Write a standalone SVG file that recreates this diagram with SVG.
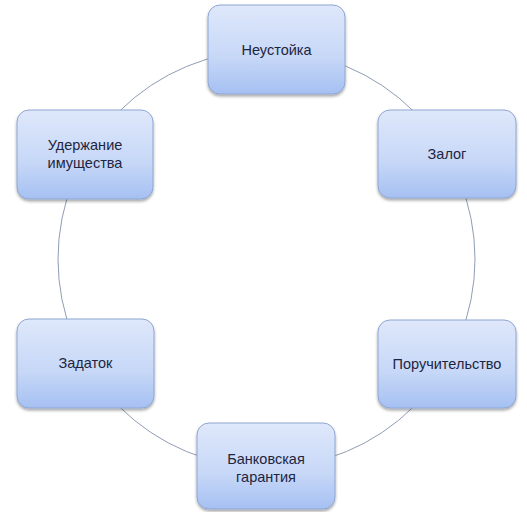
<svg xmlns="http://www.w3.org/2000/svg" width="527" height="512" viewBox="0 0 527 512">
  <defs>
    <linearGradient id="boxGrad" x1="0" y1="0" x2="0" y2="1">
      <stop offset="0" stop-color="#dfe8fb"/>
      <stop offset="0.6" stop-color="#c6d7f7"/>
      <stop offset="1" stop-color="#a5c0f2"/>
    </linearGradient>
    <filter id="shadow" x="-10%" y="-10%" width="125%" height="130%">
      <feGaussianBlur in="SourceAlpha" stdDeviation="1.5"/>
      <feOffset dx="0" dy="2" result="b"/>
      <feComponentTransfer><feFuncA type="linear" slope="0.35"/></feComponentTransfer>
      <feMerge><feMergeNode/><feMergeNode in="SourceGraphic"/></feMerge>
    </filter>
  </defs>
  <style>
    .box { fill: url(#boxGrad); stroke: #8ea6d2; stroke-width: 1; filter: url(#shadow); }
    .lbl { font-family: "Liberation Sans", Arial, sans-serif; font-size: 14.5px; fill: #1e2540; text-anchor: middle; }
    .ring { fill: none; stroke: #8f9db3; stroke-width: 1; }
  </style>
  <rect width="527" height="512" fill="#ffffff"/>
  <g id="connectors">
    <circle class="ring" cx="266.5" cy="259" r="208.5"/>
  </g>
  <g id="node-neustoyka">
    <rect class="box" x="208" y="5" width="137" height="89" rx="12"/>
    <text class="lbl" x="276.5" y="55">Неустойка</text>
  </g>
  <g id="node-zalog">
    <rect class="box" x="378" y="110" width="138" height="88" rx="12"/>
    <text class="lbl" x="447" y="159">Залог</text>
  </g>
  <g id="node-poruchitelstvo">
    <rect class="box" x="378" y="320" width="138" height="88" rx="12"/>
    <text class="lbl" x="447" y="369">Поручительство</text>
  </g>
  <g id="node-bank">
    <rect class="box" x="197" y="423" width="138" height="86" rx="12"/>
    <text class="lbl" x="266" y="464">Банковская</text>
    <text class="lbl" x="266" y="482">гарантия</text>
  </g>
  <g id="node-zadatok">
    <rect class="box" x="17" y="319" width="137" height="89" rx="12"/>
    <text class="lbl" x="85.5" y="368">Задаток</text>
  </g>
  <g id="node-uderzhanie">
    <rect class="box" x="17" y="110" width="136" height="89" rx="12"/>
    <text class="lbl" x="85" y="150">Удержание</text>
    <text class="lbl" x="85" y="168">имущества</text>
  </g>
</svg>
